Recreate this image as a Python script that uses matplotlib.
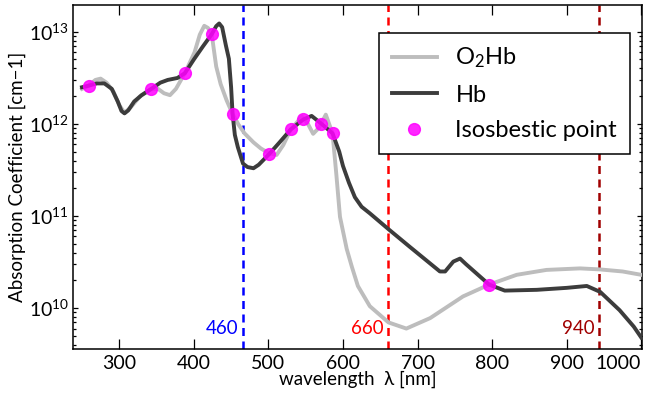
import matplotlib
matplotlib.use('Agg')
import matplotlib.pyplot as plt
from matplotlib.ticker import LogLocator, NullFormatter

# - Data ------------------------------------------------------------------------
hb_nm = [250, 259, 270, 280, 290, 298, 303, 307, 312, 320, 330, 342, 355, 365,
         378, 388, 400, 412, 424, 430, 434, 438, 443, 447, 450, 452, 455, 459,
         466, 472, 480, 487, 501, 515, 530, 547, 558, 570, 586, 595, 600, 608,
         616, 625, 636, 661, 690, 730, 737, 748, 757, 765, 796, 817, 860, 900,
         927, 945, 971, 990, 1000]
hb_abs = [2.5e12, 2.6e12, 2.75e12, 2.75e12, 2.4e12, 1.75e12, 1.38e12, 1.3e12,
          1.4e12, 1.75e12, 2.05e12, 2.37e12, 2.8e12, 3.0e12, 3.15e12, 3.55e12,
          5.0e12, 6.9e12, 9.4e12, 1.15e13, 1.23e13, 1.12e13, 7.1e12, 5.1e12,
          2.5e12, 1.28e12, 7.6e11, 5.6e11, 3.7e11, 3.4e11, 3.3e11, 3.6e11,
          4.7e11, 6.3e11, 8.7e11, 1.12e12, 1.22e12, 1.02e12, 7.9e11, 5.0e11,
          3.5e11, 2.3e11, 1.6e11, 1.26e11, 1.07e11, 7.2e10, 4.6e10, 2.5e10,
          2.5e10, 3.2e10, 3.45e10, 3.0e10, 1.8e10, 1.55e10, 1.58e10, 1.66e10,
          1.74e10, 1.5e10, 9.5e9, 6.3e9, 4.8e9]

o2hb_nm = [250, 259, 268, 275, 283, 292, 300, 307, 315, 328, 342, 352, 360, 368,
           376, 388, 401, 408, 414, 419, 424, 430, 436, 444, 452, 460, 468, 480,
           490, 501, 511, 520, 530, 545, 553, 560, 568, 577, 586, 591, 596, 605,
           612, 620, 636, 661, 685, 717, 761, 796, 833, 873, 918, 945, 975, 1000]
o2hb_abs = [2.4e12, 2.6e12, 3.0e12, 3.1e12, 2.8e12, 2.25e12, 1.6e12, 1.32e12,
            1.5e12, 2.0e12, 2.37e12, 2.4e12, 2.15e12, 2.05e12, 2.4e12, 3.55e12,
            6.0e12, 9.3e12, 1.16e13, 1.1e13, 9.4e12, 4.2e12, 2.7e12, 1.8e12,
            1.28e12, 9.8e11, 7.9e11, 6.3e11, 5.4e11, 4.8e11, 4.6e11, 5.9e11,
            8.7e11, 1.2e12, 1.0e12, 7.8e11, 9.1e11, 1.26e12, 7.9e11, 2.9e11,
            9.8e10, 4.4e10, 2.8e10, 1.74e10, 1.05e10, 7.0e9, 6.0e9, 7.8e9,
            1.34e10, 1.8e10, 2.3e10, 2.6e10, 2.7e10, 2.63e10, 2.5e10, 2.3e10]

iso_nm = [259, 342, 388, 424, 452, 501, 530, 547, 570, 586, 796]
iso_abs = [2.6e12, 2.37e12, 3.55e12, 9.4e12, 1.28e12, 4.7e11, 8.7e11, 1.12e12,
           1.0e12, 7.9e11, 1.8e10]

marker_nm = [466, 660, 943]
marker_labels = ['460', '660', '940']
marker_colors = ['#0000ff', '#ff0000', '#a00000']
# - EOF Data --------------------------------------------------------------------

plt.rcParams['font.family'] = ['Lato', 'DejaVu Sans']
plt.rcParams['mathtext.fontset'] = 'custom'
plt.rcParams['mathtext.rm'] = 'Lato'
plt.rcParams['mathtext.it'] = 'Lato:italic'

fig = plt.figure(figsize=(6.48, 3.94), dpi=100)
ax = fig.add_axes([0.1127, 0.1142, 0.878, 0.873])

ax.plot(o2hb_nm, o2hb_abs, color='#bdbdbd', lw=2.8, label='O$_2$Hb', zorder=3)
ax.plot(hb_nm, hb_abs, color='#3c3c3c', lw=2.8, label='Hb', zorder=4)
ax.plot(iso_nm, iso_abs, 'o', color='#ff00ff', ms=8.5, alpha=0.85,
        label='Isosbestic point', zorder=5)

for nm, lab, col in zip(marker_nm, marker_labels, marker_colors):
    ax.axvline(nm, color=col, lw=1.8, ls=(0, (3.2, 2.2)), zorder=2)
    ax.annotate(lab, xy=(nm, 6.0e9), xytext=(-3, 0), textcoords='offset points',
                ha='right', va='center', color=col, fontsize=13.5)

ax.set_yscale('log')
ax.set_xlim(238, 1001)
ax.set_ylim(3.6e9, 1.95e13)
ax.set_xticks([300, 400, 500, 600, 700, 800, 900, 1000])
ax.yaxis.set_major_locator(LogLocator(base=10, numticks=10))
ax.yaxis.set_minor_locator(LogLocator(base=10, subs=range(2, 10), numticks=20))
ax.yaxis.set_minor_formatter(NullFormatter())

ax.tick_params(which='both', direction='in', top=True, right=True,
               labelsize=14, width=0.9)
ax.tick_params(axis='x', which='major', length=7, pad=4)
ax.tick_params(axis='y', which='major', length=3.5, pad=3)
ax.tick_params(axis='y', which='minor', length=2)
for s in ax.spines.values():
    s.set_linewidth(1.1)
# last x label sits inside the figure, as in the reference
ax.get_xticklabels()[-1].set_horizontalalignment('right')

ax.set_xlabel('wavelength  λ [nm]', fontsize=13.5, labelpad=-1)
ax.set_ylabel('Absorption Coefficient [cm\u22121]', fontsize=13.5, labelpad=2)

leg = ax.legend(loc='upper right', bbox_to_anchor=(0.979, 0.919), fontsize=17,
                handlelength=1.9, labelspacing=0.6, numpoints=1,
                fancybox=False, framealpha=1, edgecolor='black',
                borderpad=0.55, handletextpad=0.8, borderaxespad=0)
leg.get_frame().set_linewidth(1.1)

fig.savefig('out.png', dpi=100)
